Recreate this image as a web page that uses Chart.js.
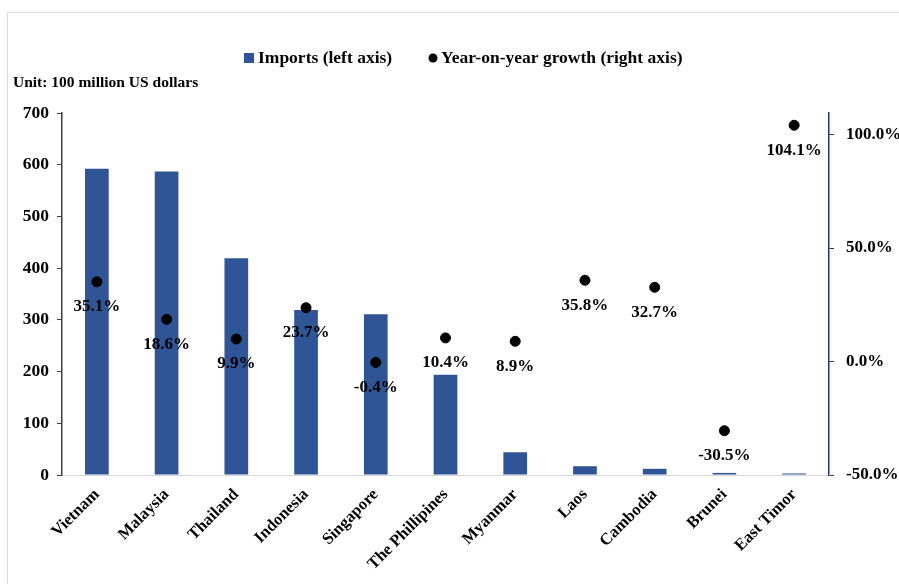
<!DOCTYPE html>
<html>
<head>
<meta charset="utf-8">
<script src="https://cdn.jsdelivr.net/npm/chart.js@4"></script>
<style>
  html, body { margin: 0; padding: 0; background: #fff; }
  #wrap { width: 899px; height: 584px; }
</style>
</head>
<body>
<div id="wrap"><canvas id="chart_one" width="899" height="584"></canvas></div>
<script>
const countries = ['Vietnam', 'Malaysia', 'Thailand', 'Indonesia', 'Singapore', 'The Phillipines',
    'Myanmar', 'Laos', 'Cambodia', 'Brunei', 'East Timor'];
const imports = [592, 587, 419, 319, 311, 194, 44, 17, 12, 4, 3];
const growth = [35.1, 18.6, 9.9, 23.7, -0.4, 10.4, 8.9, 35.8, 32.7, -30.5, 104.1];
const leftTicks = [0, 100, 200, 300, 400, 500, 600, 700];
const rightTicks = [-50, 0, 50, 100];

const FONT = '"Liberation Serif", "Times New Roman", serif';
const BLUE = '#2F5597';

// frame, unit note and legend
const decorations = {
    id: 'decorations',
    beforeDraw(chart) {
        const ctx = chart.ctx;
        ctx.save();
        ctx.strokeStyle = '#D9D9D9';
        ctx.lineWidth = 1;
        ctx.beginPath();
        ctx.moveTo(7.5, 600);
        ctx.lineTo(7.5, 12.5);
        ctx.lineTo(910, 12.5);
        ctx.stroke();
        ctx.restore();
    },
    afterDraw(chart) {
        const ctx = chart.ctx;
        ctx.save();
        ctx.fillStyle = '#000';
        ctx.textBaseline = 'middle';
        ctx.font = 'bold 15.5px ' + FONT;
        ctx.fillText('Unit: 100 million US dollars', 13, 83);

        ctx.font = 'bold 17.5px ' + FONT;
        ctx.fillStyle = BLUE;
        ctx.fillRect(244, 53, 10, 10);
        ctx.fillStyle = '#000';
        ctx.fillText('Imports (left axis)', 258, 58);
        ctx.beginPath();
        ctx.arc(433, 58, 4.5, 0, Math.PI * 2);
        ctx.fill();
        ctx.fillText('Year-on-year growth (right axis)', 441, 58);

        // growth labels under each point
        const meta = chart.getDatasetMeta(0);
        ctx.font = 'bold 17px ' + FONT;
        ctx.textAlign = 'center';
        meta.data.forEach((pt, i) => {
            ctx.fillText(growth[i].toFixed(1) + '%', pt.x, pt.y + 25);
        });
        ctx.restore();
    }
};

const ct = document.getElementById('chart_one');
new Chart(ct, {
    data: {
        labels: countries,
        datasets: [{
            type: 'line',
            label: 'Year-on-year growth (right axis)',
            data: growth,
            yAxisID: 'y1',
            showLine: false,
            pointRadius: 5,
            pointBackgroundColor: '#000',
            pointBorderColor: '#000',
            order: 0
        }, {
            type: 'bar',
            label: 'Imports (left axis)',
            data: imports,
            yAxisID: 'y',
            backgroundColor: BLUE,
            barPercentage: 0.34,
            categoryPercentage: 1,
            order: 1
        }]
    },
    plugins: [decorations],
    options: {
        responsive: false,
        animation: false,
        layout: { padding: { top: 113, left: 0, right: 0, bottom: 0 } },
        plugins: {
            legend: { display: false },
            tooltip: { enabled: false }
        },
        scales: {
            x: {
                grid: { display: false },
                border: { color: '#D9D9D9', width: 1 },
                ticks: {
                    color: '#000',
                    font: { family: FONT, size: 16.5, weight: 'bold' },
                    maxRotation: 45,
                    minRotation: 45,
                    padding: 2
                },
                afterFit(scale) { scale.height = 109; }
            },
            y: {
                position: 'left',
                min: 0,
                max: 700,
                afterBuildTicks(scale) { scale.ticks = leftTicks.map(v => ({ value: v })); },
                grid: { drawOnChartArea: false, drawTicks: true, tickLength: 5, color: '#404040' },
                border: { color: '#404040', width: 1.5 },
                ticks: {
                    color: '#000',
                    font: { family: FONT, size: 17.5, weight: 'bold' },
                    padding: 8
                },
                afterFit(scale) { scale.width = 62; }
            },
            y1: {
                position: 'right',
                min: -50,
                max: 109.5,
                afterBuildTicks(scale) { scale.ticks = rightTicks.map(v => ({ value: v })); },
                grid: { drawOnChartArea: false, drawTicks: true, tickLength: 5, color: '#1F3864' },
                border: { color: '#1F3864', width: 1.5 },
                ticks: {
                    color: '#000',
                    font: { family: FONT, size: 17, weight: 'bold' },
                    padding: 12,
                    callback: v => v.toFixed(1) + '%'
                },
                afterFit(scale) { scale.width = 70; }
            }
        }
    }
});
</script>
</body>
</html>
